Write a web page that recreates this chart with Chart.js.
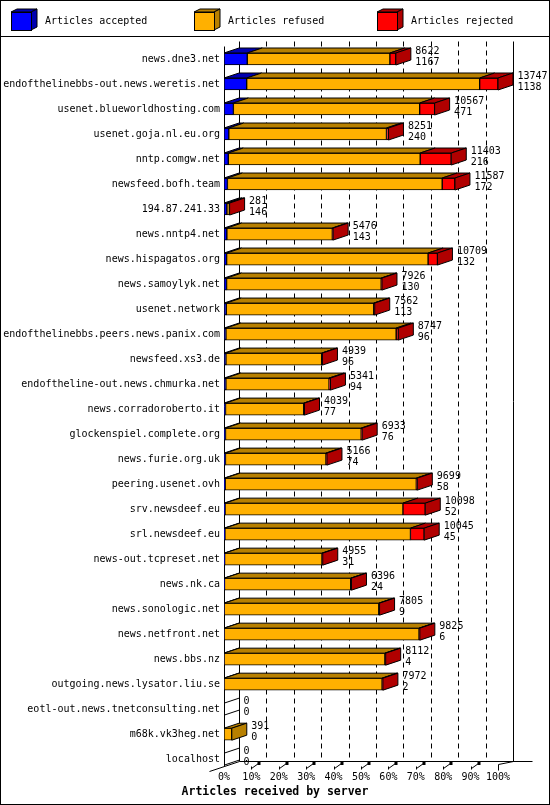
<!DOCTYPE html>
<html>
<head>
<meta charset="utf-8">
<script src="https://cdn.jsdelivr.net/npm/chart.js@4.4.1/dist/chart.umd.min.js"></script>
<style>
  html, body { margin: 0; padding: 0; background: #fff; }
  #caixa { width: 550px; height: 805px; }
</style>
</head>
<body>
<div id="caixa"><canvas id="grafico"></canvas></div>
<script>
// dados (ordem de cima para baixo)
const servidores = [
  'news.dne3.net', 'endofthelinebbs-out.news.weretis.net', 'usenet.blueworldhosting.com',
  'usenet.goja.nl.eu.org', 'nntp.comgw.net', 'newsfeed.bofh.team', '194.87.241.33',
  'news.nntp4.net', 'news.hispagatos.org', 'news.samoylyk.net', 'usenet.network',
  'endofthelinebbs.peers.news.panix.com', 'newsfeed.xs3.de', 'endoftheline-out.news.chmurka.net',
  'news.corradoroberto.it', 'glockenspiel.complete.org', 'news.furie.org.uk', 'peering.usenet.ovh',
  'srv.newsdeef.eu', 'srl.newsdeef.eu', 'news-out.tcpreset.net', 'news.nk.ca',
  'news.sonologic.net', 'news.netfront.net', 'news.bbs.nz', 'outgoing.news.lysator.liu.se',
  'eotl-out.news.tnetconsulting.net', 'm68k.vk3heg.net', 'localhost'
];
const totais = [8622, 13747, 10567, 8251, 11403, 11587, 281, 5476, 10709, 7926, 7562, 8747, 4939, 5341,
  4039, 6933, 5166, 9699, 10098, 10045, 4955, 6396, 7805, 9825, 8112, 7972, 0, 391, 0];
const aceitos = [1167, 1138, 471, 240, 216, 172, 146, 143, 132, 130, 113, 96, 96, 94,
  77, 76, 74, 58, 52, 45, 31, 24, 9, 6, 4, 2, 0, 0, 0];
const recusados = [7155, 11689, 9346, 7911, 9627, 10775, 120, 5293, 10107, 7756, 7399, 8541, 4803, 5177,
  3922, 6807, 5042, 9591, 8926, 9310, 4884, 6332, 7756, 9779, 8068, 7930, 0, 391, 0];
const rejeitados = [300, 920, 750, 100, 1560, 640, 15, 40, 470, 40, 50, 110, 40, 70,
  40, 50, 50, 50, 1120, 690, 40, 40, 40, 40, 40, 40, 0, 0, 0];
const rotulosX = ['0%', '10%', '20%', '30%', '40%', '50%', '60%', '70%', '80%', '90%', '100%'];
const nomesSeries = ['Articles accepted', 'Articles refused', 'Articles rejected'];
const coresFrente = ['#0000ff', '#ffb000', '#ff0000'];
const coresEscuras = ['#0000b0', '#b88000', '#b00000'];

const maxTotal = Math.max(...totais);
const fonte = '"DejaVu Sans Mono", monospace';
const DX = 15, DY = 5; // profundidade do efeito 3d

function linha(ctx, x1, y1, x2, y2) {
  ctx.beginPath();
  ctx.moveTo(x1, y1);
  ctx.lineTo(x2, y2);
  ctx.stroke();
}

function poligono(ctx, pts, cor) {
  ctx.beginPath();
  ctx.moveTo(pts[0][0], pts[0][1]);
  for (let k = 1; k < pts.length; k++) ctx.lineTo(pts[k][0], pts[k][1]);
  ctx.closePath();
  ctx.fillStyle = cor;
  ctx.fill();
  ctx.stroke();
}

// plugin que desenha paredes, chao, faces 3d, valores e legenda
const efeito3d = {
  id: 'efeito3d',
  beforeDatasetsDraw(chart) {
    const { ctx, chartArea: a, scales: { x } } = chart;
    const x0 = Math.round(x.getPixelForValue(0)) + 0.5;
    const x100 = Math.round(x.getPixelForValue(maxTotal)) + 0.5;
    const topoParede = a.top - DY;
    const chaoFrente = Math.round(a.bottom - 5.5) + 0.5;
    const chaoFundo = chaoFrente - DY;
    ctx.save();
    ctx.strokeStyle = '#000';
    ctx.lineWidth = 1;
    ctx.setLineDash([5, 4]);
    x.ticks.forEach((t, i) => {
      if (i === 0 || i === x.ticks.length - 1) return;
      const px = Math.round(x.getPixelForValue(t.value) + DX) + 0.5;
      linha(ctx, px, topoParede, px, chaoFundo);
    });
    ctx.setLineDash([]);
    linha(ctx, x0 + DX, topoParede, x0 + DX, chaoFundo);
    linha(ctx, x100 + DX, topoParede, x100 + DX, chaoFundo);
    linha(ctx, x0, a.top, x0, chaoFrente);
    linha(ctx, x0 + DX, chaoFundo, x100 + DX + 19, chaoFundo);
    linha(ctx, x0 - 15, chaoFrente + 5, x0 + DX, chaoFundo);
    linha(ctx, x100, chaoFrente - 2, x100 + DX, chaoFundo);
    // marquinhas do eixo x
    ctx.fillStyle = '#000';
    x.ticks.forEach((t, i) => {
      const px = Math.round(x.getPixelForValue(t.value)) + 0.5;
      if (i === 0) return;
      if (i === x.ticks.length - 1) { linha(ctx, px, chaoFrente - 2, px, chaoFrente + 4); return; }
      linha(ctx, px, chaoFrente, px, chaoFrente + 3);
      linha(ctx, px, chaoFrente + 2, px + 7, chaoFrente - 3);
      ctx.fillRect(px + 6, chaoFrente - 4.5, 3, 3);
    });
    ctx.restore();
  },
  afterDatasetsDraw(chart) {
    const { ctx } = chart;
    const metas = [0, 1, 2].map(d => chart.getDatasetMeta(d));
    ctx.save();
    ctx.strokeStyle = '#000';
    ctx.lineWidth = 1;
    servidores.forEach((nome, i) => {
      const barras = metas.map(m => m.data[i]);
      const topo = barras[0].y - barras[0].height / 2;
      const baixo = barras[0].y + barras[0].height / 2;
      let ultimo = -1;
      barras.forEach((b, d) => {
        const v = chart.data.datasets[d].data[i];
        if (!v) return;
        ultimo = d;
        const xa = Math.min(b.base, b.x), xb = Math.max(b.base, b.x);
        poligono(ctx, [[xa, topo], [xb, topo], [xb + DX, topo - DY], [xa + DX, topo - DY]], coresEscuras[d]);
      });
      const fim = barras[2].x;
      if (ultimo >= 0) {
        poligono(ctx, [[fim, topo], [fim + DX, topo - DY], [fim + DX, baixo - DY], [fim, baixo]], coresEscuras[ultimo]);
      } else {
        linha(ctx, fim, topo, fim + DX, topo - DY);
        linha(ctx, fim, baixo, fim + DX, baixo - DY);
      }
      // total e aceitos ao lado da barra
      ctx.fillStyle = '#000';
      ctx.font = '10px ' + fonte;
      ctx.textAlign = 'left';
      ctx.textBaseline = 'middle';
      ctx.fillText(String(totais[i]), fim + DX + 4.5, barras[0].y - 8);
      ctx.fillText(String(aceitos[i]), fim + DX + 4.5, barras[0].y + 3);
    });
    ctx.restore();
  },
  afterDraw(chart) {
    const { ctx, width, height } = chart;
    ctx.save();
    ctx.strokeStyle = '#000';
    ctx.lineWidth = 1;
    ctx.strokeRect(0.5, 0.5, width - 1, height - 1);
    linha(ctx, 0, 36.5, width, 36.5);
    // legenda com caixinhas 3d
    chart.data.datasets.forEach((ds, i) => {
      const cx = 11 + i * 183;
      poligono(ctx, [[cx, 12], [cx + 20, 12], [cx + 26, 9], [cx + 6, 9]], coresEscuras[i]);
      poligono(ctx, [[cx + 20, 12], [cx + 26, 9], [cx + 26, 27], [cx + 20, 30]], coresEscuras[i]);
      ctx.fillStyle = coresFrente[i];
      ctx.fillRect(cx, 12, 20, 18);
      ctx.strokeRect(cx + 0.5, 12.5, 20, 18);
      ctx.fillStyle = '#000';
      ctx.font = '10px ' + fonte;
      ctx.textBaseline = 'middle';
      ctx.fillText(ds.label, cx + 34, 21);
    });
    ctx.restore();
  }
};

const grafico = new Chart(document.getElementById('grafico'), {
  type: 'bar',
  data: {
    labels: servidores,
    datasets: [
      { label: nomesSeries[0], data: aceitos, backgroundColor: coresFrente[0] },
      { label: nomesSeries[1], data: recusados, backgroundColor: coresFrente[1] },
      { label: nomesSeries[2], data: rejeitados, backgroundColor: coresFrente[2] }
    ]
  },
  options: {
    indexAxis: 'y',
    responsive: true,
    maintainAspectRatio: false,
    animation: false,
    layout: { padding: { top: 46.5, left: 0, right: 0, bottom: 0 } },
    datasets: {
      bar: { barThickness: 12, borderColor: '#000', borderWidth: 1, borderSkipped: false }
    },
    scales: {
      x: {
        stacked: true,
        min: 0,
        max: maxTotal,
        grid: { display: false, drawTicks: false },
        border: { display: false },
        afterBuildTicks: s => { s.ticks = rotulosX.map((t, i) => ({ value: maxTotal * i / (rotulosX.length - 1) })); },
        ticks: {
          autoSkip: false, maxRotation: 0, padding: 0, color: '#000',
          font: { family: fonte, size: 10 },
          callback: (valor, indice) => rotulosX[indice]
        },
        afterFit: s => { s.height = 11.5; }
      },
      y: {
        stacked: true,
        grid: { display: false, drawTicks: false },
        border: { display: false },
        ticks: { autoSkip: false, padding: 4, color: '#000', font: { family: fonte, size: 10 } },
        afterFit: s => { s.width = 224; }
      },
      lado: {
        type: 'category',
        position: 'right',
        grid: { display: false, drawTicks: false },
        border: { display: false },
        ticks: { display: false },
        afterFit: s => { s.width = 52; }
      }
    },
    plugins: {
      legend: { display: false },
      tooltip: { enabled: false },
      title: {
        display: true,
        position: 'bottom',
        text: 'Articles received by server',
        color: '#000',
        font: { family: fonte, size: 11.5, weight: 'bold', lineHeight: 1.2 },
        padding: { top: 2, bottom: 6 }
      }
    }
  },
  plugins: [efeito3d]
});
</script>
</body>
</html>
